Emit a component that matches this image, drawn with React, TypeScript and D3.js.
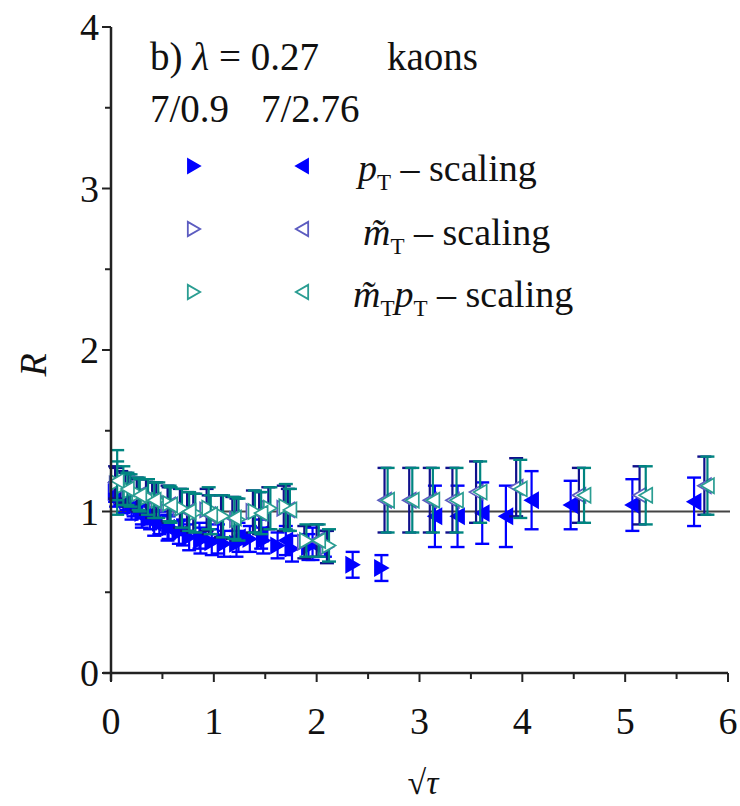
import React from 'react';
import * as d3 from 'd3';

// 7/0.9 (right triangles) and 7/2.76 (left triangles), three scalings
const ptRightX = [0.04, 0.09, 0.15, 0.22, 0.3, 0.38, 0.47, 0.56, 0.66, 0.76, 0.87, 0.98, 1.1, 1.22, 1.35, 1.48, 1.62, 1.76, 1.92, 2.08, 2.35, 2.63];
const ptRightR = [1.12, 1.1, 1.07, 1.03, 0.99, 0.96, 0.93, 0.9, 0.87, 0.84, 0.82, 0.81, 0.8, 0.8, 0.83, 0.82, 0.79, 0.77, 0.78, 0.8, 0.67, 0.65];
const ptRightE = [0.06, 0.06, 0.06, 0.06, 0.07, 0.07, 0.07, 0.07, 0.07, 0.08, 0.08, 0.08, 0.08, 0.08, 0.08, 0.08, 0.08, 0.08, 0.08, 0.08, 0.08, 0.08];

const ptLeftX = [0.05, 0.12, 0.2, 0.3, 0.42, 0.55, 0.7, 0.86, 1.04, 1.24, 1.46, 1.7, 1.96, 3.15, 3.37, 3.61, 3.84, 4.09, 4.47, 5.07, 5.67];
const ptLeftR = [1.1, 1.06, 1.02, 0.97, 0.93, 0.9, 0.87, 0.85, 0.83, 0.84, 0.86, 0.82, 0.8, 0.97, 0.97, 0.99, 0.97, 1.07, 1.04, 1.04, 1.06];
const ptLeftE = [0.07, 0.07, 0.07, 0.07, 0.08, 0.08, 0.08, 0.08, 0.09, 0.09, 0.09, 0.09, 0.1, 0.19, 0.19, 0.19, 0.19, 0.18, 0.15, 0.16, 0.15];

const mtRightX = [0.05, 0.1, 0.17, 0.25, 0.34, 0.44, 0.55, 0.67, 0.8, 0.93, 1.07, 1.22, 1.38, 1.53, 1.68, 1.88, 2.1];
const mtRightR = [1.17, 1.15, 1.13, 1.11, 1.09, 1.07, 1.05, 1.02, 0.99, 1.01, 0.97, 0.95, 1.0, 1.02, 1.02, 0.81, 0.78];
const mtRightE = [0.1, 0.1, 0.1, 0.1, 0.11, 0.11, 0.11, 0.12, 0.12, 0.13, 0.13, 0.13, 0.13, 0.13, 0.14, 0.1, 0.1];

const mtLeftX = [0.04, 0.14, 0.26, 0.4, 0.56, 0.74, 0.95, 1.18, 1.44, 1.72, 2.0, 2.66, 2.9, 3.1, 3.32, 3.55, 3.94, 4.55, 5.14, 5.77];
const mtLeftR = [1.18, 1.14, 1.1, 1.07, 1.04, 1.0, 0.98, 0.96, 0.99, 1.01, 0.82, 1.07, 1.07, 1.07, 1.07, 1.12, 1.15, 1.1, 1.1, 1.16];
const mtLeftE = [0.1, 0.1, 0.1, 0.11, 0.11, 0.12, 0.12, 0.13, 0.13, 0.13, 0.1, 0.2, 0.2, 0.2, 0.2, 0.19, 0.18, 0.17, 0.18, 0.18];

const mtptRightX = [0.06, 0.12, 0.19, 0.27, 0.36, 0.46, 0.57, 0.69, 0.82, 0.95, 1.09, 1.24, 1.4, 1.55, 1.7, 1.9, 2.12];
const mtptRightR = [1.18, 1.16, 1.13, 1.11, 1.09, 1.07, 1.05, 1.02, 0.99, 1.02, 0.97, 0.95, 1.0, 1.02, 1.03, 0.82, 0.79];
const mtptRightE = [0.2, 0.12, 0.1, 0.1, 0.11, 0.11, 0.11, 0.12, 0.12, 0.13, 0.13, 0.13, 0.13, 0.13, 0.14, 0.1, 0.1];

const mtptLeftX = [0.06, 0.16, 0.28, 0.42, 0.58, 0.76, 0.97, 1.2, 1.46, 1.74, 2.02, 2.69, 2.93, 3.13, 3.36, 3.59, 3.98, 4.6, 5.2, 5.8];
const mtptLeftR = [1.19, 1.14, 1.1, 1.07, 1.04, 1.0, 0.98, 0.96, 0.99, 1.01, 0.82, 1.07, 1.07, 1.07, 1.07, 1.12, 1.14, 1.1, 1.1, 1.16];
const mtptLeftE = [0.12, 0.1, 0.1, 0.11, 0.11, 0.12, 0.12, 0.13, 0.13, 0.13, 0.1, 0.2, 0.2, 0.2, 0.2, 0.19, 0.18, 0.17, 0.18, 0.18];

const xTicks = [0, 1, 2, 3, 4, 5, 6];
const yTicks = [0, 1, 2, 3, 4];

const BLUE = '#0000ff';
const MT = '#5c5cc0';
const MT_ERR = '#10108c';
const TEAL = '#2a9d92';
const TEAL_ERR = '#008580';

const series = [
  { xs: ptRightX, rs: ptRightR, es: ptRightE, dir: 1, fill: BLUE, stroke: BLUE, err: BLUE },
  { xs: ptLeftX, rs: ptLeftR, es: ptLeftE, dir: -1, fill: BLUE, stroke: BLUE, err: BLUE },
  { xs: mtRightX, rs: mtRightR, es: mtRightE, dir: 1, fill: '#fff', stroke: MT, err: MT_ERR },
  { xs: mtLeftX, rs: mtLeftR, es: mtLeftE, dir: -1, fill: '#fff', stroke: MT, err: MT_ERR },
  { xs: mtptRightX, rs: mtptRightR, es: mtptRightE, dir: 1, fill: '#fff', stroke: TEAL, err: TEAL_ERR },
  { xs: mtptLeftX, rs: mtptLeftR, es: mtptLeftE, dir: -1, fill: '#fff', stroke: TEAL, err: TEAL_ERR },
];

const tri = (cx: number, cy: number, dir: number, s = 1) => {
  const w = 6.5 * s, h = 7.5 * s;
  return `M${cx - dir * w},${cy - h}L${cx + dir * w},${cy}L${cx - dir * w},${cy + h}Z`;
};

const serif = '"Liberation Serif", "Times New Roman", serif';

export default function App() {
  const x = d3.scaleLinear().domain([0, 6]).range([111, 728]);
  const y = d3.scaleLinear().domain([0, 4]).range([673, 27]);
  const axisColor = '#222';

  return (
    <div style={{ position: 'absolute', left: 0, top: 0 }}>
      <svg width={740} height={806} style={{ display: 'block', background: '#fff' }} fontFamily={serif}>
        {/* reference line R = 1 */}
        <line x1={x(0)} x2={730} y1={y(1)} y2={y(1)} stroke="#444" strokeWidth={2} />

        {/* data */}
        {series.map((s, si) => (
          <g key={si}>
            {s.xs.map((xv, i) => {
              const cx = x(xv), cy = y(s.rs[i]);
              const y1 = y(s.rs[i] + s.es[i]), y2 = y(s.rs[i] - s.es[i]);
              return (
                <g key={i}>
                  <line x1={cx} x2={cx} y1={y1} y2={y2} stroke={s.err} strokeWidth={2.2} />
                  <line x1={cx - 7} x2={cx + 7} y1={y1} y2={y1} stroke={s.err} strokeWidth={2.4} />
                  <line x1={cx - 7} x2={cx + 7} y1={y2} y2={y2} stroke={s.err} strokeWidth={2.4} />
                  <path d={tri(cx, cy, s.dir)} fill={s.fill} stroke={s.stroke} strokeWidth={1.7} />
                </g>
              );
            })}
          </g>
        ))}

        {/* axes */}
        <line x1={x(0)} x2={x(0)} y1={y(4)} y2={y(0) + 8} stroke={axisColor} strokeWidth={2.5} />
        <line x1={x(0) - 8} x2={x(6)} y1={y(0)} y2={y(0)} stroke={axisColor} strokeWidth={2.5} />
        {d3.range(0, 6.01, 0.5).map((t) => (
          <line key={'xt' + t} x1={x(t)} x2={x(t)} y1={y(0)} y2={y(0) + (t % 1 === 0 ? 9 : 6)} stroke={axisColor} strokeWidth={2} />
        ))}
        {d3.range(0, 4.01, 0.5).map((t) => (
          <line key={'yt' + t} x1={x(0)} x2={x(0) - (t % 1 === 0 ? 9 : 6)} y1={y(t)} y2={y(t)} stroke={axisColor} strokeWidth={2} />
        ))}
        {xTicks.map((t) => (
          <text key={'xl' + t} x={x(t)} y={734} textAnchor="middle" fontSize={38} fill="#111">{t}</text>
        ))}
        {yTicks.map((t) => (
          <text key={'yl' + t} x={99} y={y(t) + 13} textAnchor="end" fontSize={38} fill="#111">{t}</text>
        ))}

        {/* axis titles */}
        <text transform="translate(46,365) rotate(-90)" textAnchor="middle" fontSize={38} fontStyle="italic" fill="#111">R</text>
        <text x={423} y={794} textAnchor="middle" fontSize={34} fill="#111">
          √<tspan fontStyle="italic">τ</tspan>
        </text>

        {/* annotation */}
        <text x={150} y={70} fontSize={39} fill="#111">
          b) <tspan fontStyle="italic">λ</tspan> = 0.27
        </text>
        <text x={387} y={70} fontSize={39} fill="#111">kaons</text>
        <text x={150} y={122} fontSize={39} fill="#111">7/0.9</text>
        <text x={261} y={122} fontSize={39} fill="#111">7/2.76</text>

        {/* legend */}
        <path d={tri(194, 166, 1, 0.95)} fill={BLUE} stroke={BLUE} strokeWidth={1.5} />
        <path d={tri(302, 166, -1, 0.95)} fill={BLUE} stroke={BLUE} strokeWidth={1.5} />
        <text x={358} y={181} fontSize={38} fill="#111">
          <tspan fontStyle="italic">p</tspan>
          <tspan fontSize={23} dy={9}>T</tspan>
          <tspan dy={-9}> – scaling</tspan>
        </text>

        <path d={tri(194, 229, 1, 0.95)} fill="#fff" stroke={MT} strokeWidth={1.8} />
        <path d={tri(302, 229, -1, 0.95)} fill="#fff" stroke={MT} strokeWidth={1.8} />
        <text x={363} y={245} fontSize={38} fill="#111">
          <tspan fontStyle="italic">m̃</tspan>
          <tspan fontSize={23} dy={9}>T</tspan>
          <tspan dy={-9}> – scaling</tspan>
        </text>

        <path d={tri(194, 292, 1, 0.95)} fill="#fff" stroke={TEAL} strokeWidth={1.8} />
        <path d={tri(302, 292, -1, 0.95)} fill="#fff" stroke={TEAL} strokeWidth={1.8} />
        <text x={353} y={307} fontSize={38} fill="#111">
          <tspan fontStyle="italic">m̃</tspan>
          <tspan fontSize={23} dy={9}>T</tspan>
          <tspan dy={-9} fontStyle="italic">p</tspan>
          <tspan fontSize={23} dy={9}>T</tspan>
          <tspan dy={-9}> – scaling</tspan>
        </text>
      </svg>
    </div>
  );
}
